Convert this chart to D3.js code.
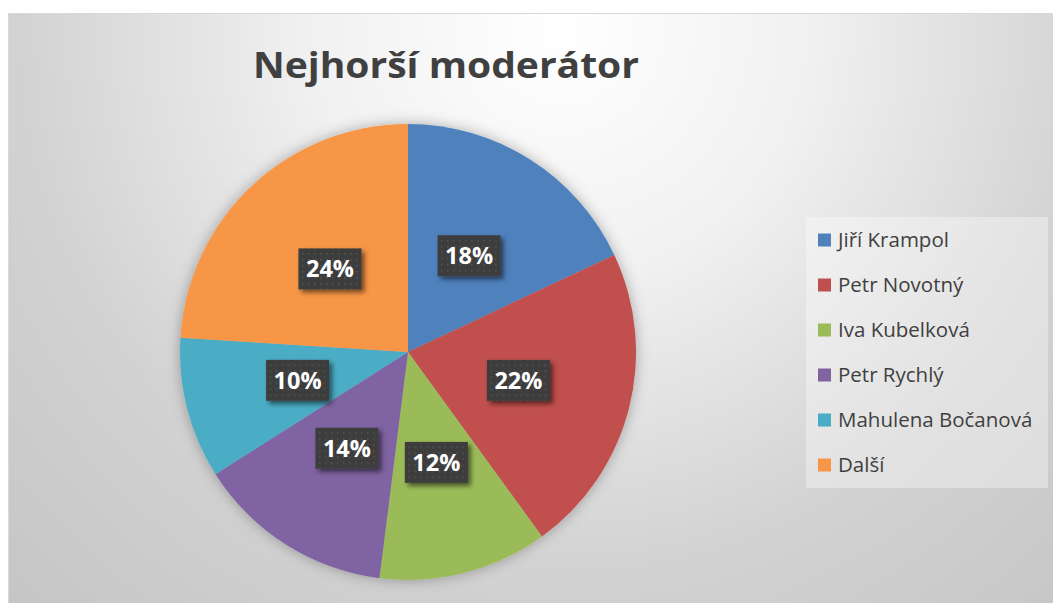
<!DOCTYPE html>
<html>
<head>
<meta charset="utf-8">
<script src="https://cdn.jsdelivr.net/npm/d3@7"></script>
<style>
    html, body { margin: 0; padding: 0; background: #ffffff; }
    svg { display: block; }
</style>
</head>
<body>
<div id="chart"></div>
<script>
'use strict';

// chart data
const names = ["Jiří Krampol", "Petr Novotný", "Iva Kubelková", "Petr Rychlý", "Mahulena Bočanová", "Další"];
const values = [18, 22, 12, 14, 10, 24];
const sliceColors = ["#4F81BD", "#C0504D", "#9BBB59", "#8064A2", "#4BACC6", "#F79646"];
const title = "Nejhorší moderátor";

const width = 1053,
    height = 603;

const fontFamily = "'Open Sans', Lato, sans-serif";

const plotChart = () => {

    const svg = d3.select("#chart")
        .append("svg")
        .attr("width", width)
        .attr("height", height);

    const defs = svg.append("defs");
    createDefs(defs);

    // chart area with radial gray background
    svg.append("rect")
        .attr("x", 8.5)
        .attr("y", 13.5)
        .attr("width", width)
        .attr("height", height)
        .attr("fill", "url(#bgGrad)")
        .attr("stroke", "#d9d9d9")
        .attr("stroke-width", 1);

    svg.append("text")
        .attr("x", 446)
        .attr("y", 78)
        .attr("text-anchor", "middle")
        .attr("textLength", 386)
        .attr("lengthAdjust", "spacingAndGlyphs")
        .style("font-family", fontFamily)
        .style("font-weight", "bold")
        .style("font-size", "35px")
        .style("fill", "#404040")
        .text(title);

    drawPie(svg);
    drawLegend(svg);
}

// gradients, shadows, dotted label pattern
const createDefs = (defs) => {
    const grad = defs.append("radialGradient")
        .attr("id", "bgGrad")
        .attr("gradientUnits", "userSpaceOnUse")
        .attr("cx", 560)
        .attr("cy", 30)
        .attr("r", 820);
    grad.append("stop").attr("offset", 0).attr("stop-color", "#ffffff");
    grad.append("stop").attr("offset", 0.3).attr("stop-color", "#f1f1f1");
    grad.append("stop").attr("offset", 0.66).attr("stop-color", "#d2d2d2");
    grad.append("stop").attr("offset", 1).attr("stop-color", "#c4c4c4");

    const pieShadow = defs.append("filter")
        .attr("id", "pieShadow")
        .attr("x", "-20%").attr("y", "-20%")
        .attr("width", "140%").attr("height", "140%");
    pieShadow.append("feDropShadow")
        .attr("dx", 0).attr("dy", 0)
        .attr("stdDeviation", 7)
        .attr("flood-color", "#000000")
        .attr("flood-opacity", 0.3);

    const boxShadow = defs.append("filter")
        .attr("id", "boxShadow")
        .attr("x", "-30%").attr("y", "-30%")
        .attr("width", "160%").attr("height", "160%");
    boxShadow.append("feDropShadow")
        .attr("dx", 3).attr("dy", 3)
        .attr("stdDeviation", 2.5)
        .attr("flood-color", "#000000")
        .attr("flood-opacity", 0.55);

    const dots = defs.append("pattern")
        .attr("id", "dots")
        .attr("patternUnits", "userSpaceOnUse")
        .attr("width", 6)
        .attr("height", 6);
    dots.append("rect").attr("width", 6).attr("height", 6).attr("fill", "#3c3c3c");
    dots.append("rect").attr("x", 2).attr("y", 2).attr("width", 1.6).attr("height", 1.6).attr("fill", "#555555");
}

// pie slices and percentage labels
const drawPie = (svg) => {
    const cx = 408,
        cy = 352,
        radius = 228;

    const pie = d3.pie().sort(null).value(d => d);
    const arcs = pie(values);
    const total = d3.sum(values);

    const arc = d3.arc().innerRadius(0).outerRadius(radius);

    const g = svg.append("g")
        .attr("transform", "translate(" + cx + "," + cy + ")");

    g.append("g")
        .attr("filter", "url(#pieShadow)")
        .selectAll("path")
        .data(arcs)
        .enter()
        .append("path")
        .attr("d", arc)
        .attr("fill", (d, i) => sliceColors[i]);

    const labels = g.selectAll(".label")
        .data(arcs)
        .enter()
        .append("g")
        .attr("class", "label")
        .attr("transform", d => "translate(" + arc.centroid(d) + ")");

    labels.append("rect")
        .attr("x", -31.5)
        .attr("y", -20.5)
        .attr("width", 63)
        .attr("height", 41)
        .attr("fill", "url(#dots)")
        .attr("filter", "url(#boxShadow)");

    labels.append("text")
        .attr("text-anchor", "middle")
        .attr("dy", "0.36em")
        .style("font-family", fontFamily)
        .style("font-weight", "bold")
        .style("font-size", "23.5px")
        .style("fill", "#ffffff")
        .text(d => Math.round(d.value / total * 100) + "%");
}

// legend box on the right
const drawLegend = (svg) => {
    const legend = svg.append("g");

    legend.append("rect")
        .attr("x", 806)
        .attr("y", 217)
        .attr("width", 242)
        .attr("height", 271)
        .attr("fill", "#ffffff")
        .attr("fill-opacity", 0.35);

    const y = d3.scalePoint()
        .domain(names)
        .range([240, 465]);

    const items = legend.selectAll(".item")
        .data(names)
        .enter()
        .append("g")
        .attr("class", "item")
        .attr("transform", d => "translate(818," + y(d) + ")");

    items.append("rect")
        .attr("x", 0)
        .attr("y", -6.5)
        .attr("width", 13)
        .attr("height", 13)
        .attr("fill", (d, i) => sliceColors[i]);

    items.append("text")
        .attr("x", 20)
        .attr("dy", "0.36em")
        .style("font-family", fontFamily)
        .style("font-size", "20.5px")
        .style("fill", "#404040")
        .text(d => d);
}

plotChart();
</script>
</body>
</html>
